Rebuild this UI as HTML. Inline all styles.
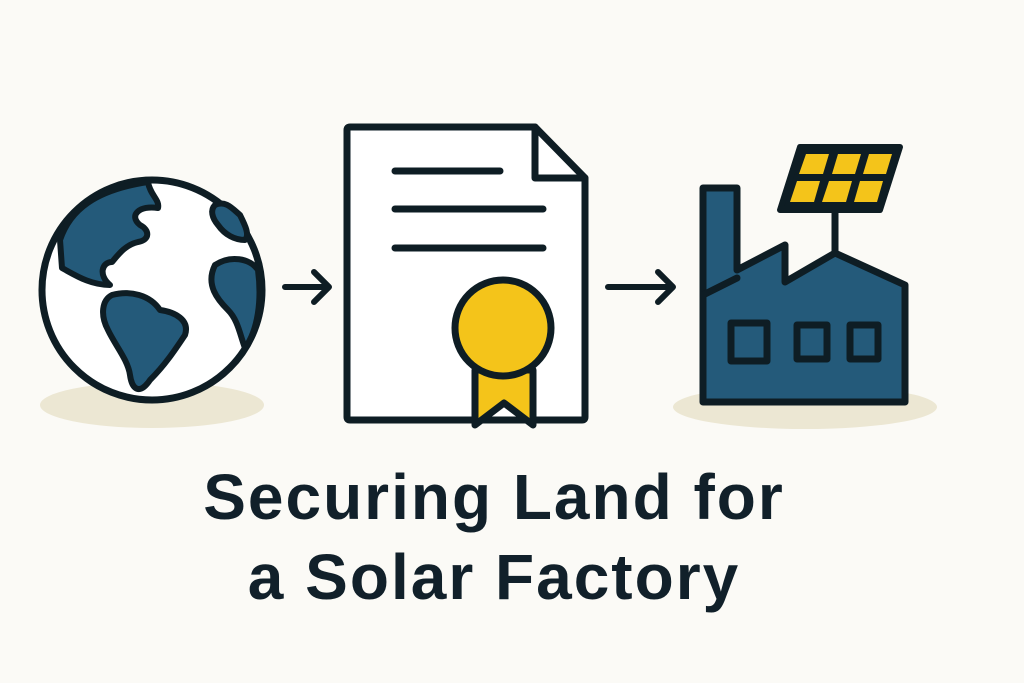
<!DOCTYPE html>
<html><head><meta charset="utf-8"><style>
html,body{margin:0;padding:0;background:#fbfaf6;}
body{width:1024px;height:683px;overflow:hidden;position:relative;}
.t{position:absolute;left:-18px;width:1024px;text-align:center;font-family:"Liberation Sans",sans-serif;font-weight:bold;font-size:64px;line-height:72px;color:#11202a;letter-spacing:2px;}
</style></head><body>
<svg width="1024" height="683" style="position:absolute;left:0;top:0">
<g stroke="#0e1d24" stroke-linecap="round" stroke-linejoin="round">
<ellipse cx="152" cy="405" rx="112" ry="23" fill="#ece7d3" stroke="none"/>
<ellipse cx="805" cy="407" rx="132" ry="22" fill="#ece7d3" stroke="none"/>
<circle cx="152" cy="290" r="110" fill="#fff" stroke-width="7"/>
<path d="M60 240 C70 210 95 190 148 182 C150 195 160 200 158 208 C140 205 128 215 140 225 C150 230 150 240 138 242 C125 245 118 255 112 262 C102 262 98 275 110 285 C90 285 75 275 62 268 Z" fill="#245a7a" stroke-width="6"/>
<path d="M112 295 C130 290 150 295 160 310 C175 312 190 320 185 335 C175 350 165 365 150 380 C140 395 132 390 130 375 C128 360 115 345 108 330 C100 315 102 300 112 295 Z" fill="#245a7a" stroke-width="6"/>
<path d="M215 265 C230 255 250 258 258 270 C262 300 258 330 245 348 C240 335 238 320 228 310 C218 300 205 285 215 265 Z" fill="#245a7a" stroke-width="6"/>
<path d="M215 205 C225 200 232 208 240 215 C245 225 250 235 245 240 C235 240 225 235 218 225 C212 218 210 210 215 205 Z" fill="#245a7a" stroke-width="6"/>
<g fill="none" stroke-width="6"><path d="M285 287 H328 M314 272 L329 287 L314 302"/>
<path d="M608 287 H672 M658 272 L673 287 L658 302"/></g>
<path d="M350 127 H535 L585 178 V417 Q585 420 582 420 H350 Q347 420 347 417 V130 Q347 127 350 127 Z" fill="#fff" stroke-width="7"/>
<path d="M535 127 V178 H585" fill="none" stroke-width="7"/>
<g stroke-width="7"><path d="M395 171 H500 M395 209 H543 M395 248 H543"/></g>
<path d="M475 370 V425 L504 403 L533 425 V370 Z" fill="#f4c41a" stroke-width="7"/>
<circle cx="503" cy="328" r="48" fill="#f4c41a" stroke-width="7"/>
<path d="M835 212 V253" stroke-width="7"/>
<path d="M703 402 V188 H737 V270 L785 245 V282 L835 253 L905 285 V402 Z" fill="#245a7a" stroke-width="7"/>
<path d="M703 295 L737 278" fill="none" stroke-width="7"/>
<rect x="731" y="323" width="36" height="38" fill="#245a7a" stroke-width="7"/>
<rect x="797" y="325" width="30" height="34" fill="#245a7a" stroke-width="7"/>
<rect x="850" y="325" width="28" height="34" fill="#245a7a" stroke-width="7"/>
<path d="M800 147 H900 L880 210 H780 Z" fill="#0e1d24" stroke-width="6"/>
<g fill="#f4c41a" stroke="none">
<path d="M806 154 H829 L823 174 H799 Z"/><path d="M838 154 H861 L855 174 H832 Z"/><path d="M869 154 H892 L886 174 H863 Z"/>
<path d="M797 181 H820 L814 202 H790 Z"/><path d="M829 181 H852 L846 202 H822 Z"/><path d="M860 181 H883 L877 202 H854 Z"/>
</g>
</g>
</svg>
<div class="t" style="top:461px">Securing Land for</div>
<div class="t" style="top:541px">a Solar Factory</div>
</body></html>
